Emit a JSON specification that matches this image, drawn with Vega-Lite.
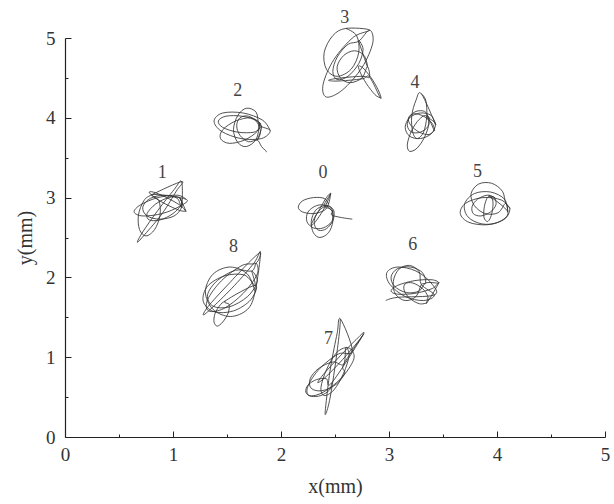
{
  "$schema": "https://vega.github.io/schema/vega-lite/v6.json",
  "width": 540,
  "height": 399,
  "autosize": {"type": "none"},
  "padding": {"left": 65, "top": 38, "right": 9, "bottom": 67},
  "background": "white",
  "config": {
    "view": {"stroke": null},
    "font": "Liberation Serif",
    "axis": {"grid": false, "labelFont": "Liberation Serif", "titleFont": "Liberation Serif", "domainColor": "#222", "tickColor": "#222", "domainWidth": 1.2, "tickWidth": 1}
  },
  "datasets": {
    "paths": [
      {"c":0,"x":2.44,"y":2.92},{"c":0,"x":2.40,"y":2.99},{"c":0,"x":2.30,"y":3.00},{"c":0,"x":2.20,"y":2.96},{"c":0,"x":2.16,"y":2.88},{"c":0,"x":2.20,"y":2.82},{"c":0,"x":2.30,"y":2.80},{"c":0,"x":2.40,"y":2.84},{"c":0,"x":2.44,"y":2.92},
      {"c":0,"x":2.46,"y":3.05},{"c":0,"x":2.44,"y":2.98},{"c":0,"x":2.39,"y":2.84},{"c":0,"x":2.32,"y":2.70},{"c":0,"x":2.28,"y":2.65},{"c":0,"x":2.30,"y":2.72},{"c":0,"x":2.36,"y":2.86},{"c":0,"x":2.42,"y":3.00},{"c":0,"x":2.46,"y":3.05},
      {"c":0,"x":2.40,"y":2.90},{"c":0,"x":2.47,"y":2.84},{"c":0,"x":2.48,"y":2.70},{"c":0,"x":2.44,"y":2.56},{"c":0,"x":2.36,"y":2.50},{"c":0,"x":2.30,"y":2.56},{"c":0,"x":2.28,"y":2.70},{"c":0,"x":2.32,"y":2.84},{"c":0,"x":2.40,"y":2.90},
      {"c":0,"x":2.45,"y":2.89},{"c":0,"x":2.49,"y":2.83},{"c":0,"x":2.48,"y":2.71},{"c":0,"x":2.42,"y":2.61},{"c":0,"x":2.35,"y":2.59},{"c":0,"x":2.31,"y":2.66},{"c":0,"x":2.32,"y":2.77},{"c":0,"x":2.38,"y":2.87},{"c":0,"x":2.45,"y":2.89},
      {"c":0,"x":2.48,"y":2.82},{"c":0,"x":2.42,"y":2.90},{"c":0,"x":2.33,"y":2.90},{"c":0,"x":2.25,"y":2.82},{"c":0,"x":2.24,"y":2.70},{"c":0,"x":2.30,"y":2.62},{"c":0,"x":2.39,"y":2.62},{"c":0,"x":2.47,"y":2.70},{"c":0,"x":2.48,"y":2.82},
      {"c":0,"x":2.47,"y":2.78},{"c":0,"x":2.56,"y":2.75},{"c":0,"x":2.66,"y":2.73},

      {"c":1,"x":1.12,"y":2.98},{"c":1,"x":1.04,"y":3.03},{"c":1,"x":0.86,"y":3.00},{"c":1,"x":0.70,"y":2.91},{"c":1,"x":0.64,"y":2.82},{"c":1,"x":0.72,"y":2.77},{"c":1,"x":0.90,"y":2.80},{"c":1,"x":1.06,"y":2.89},{"c":1,"x":1.12,"y":2.98},
      {"c":1,"x":0.81,"y":3.04},{"c":1,"x":0.87,"y":2.96},{"c":1,"x":0.88,"y":2.78},{"c":1,"x":0.83,"y":2.60},{"c":1,"x":0.75,"y":2.52},{"c":1,"x":0.69,"y":2.60},{"c":1,"x":0.68,"y":2.78},{"c":1,"x":0.73,"y":2.96},{"c":1,"x":0.81,"y":3.04},
      {"c":1,"x":1.08,"y":3.20},{"c":1,"x":1.03,"y":3.08},{"c":1,"x":0.90,"y":2.80},{"c":1,"x":0.74,"y":2.54},{"c":1,"x":0.67,"y":2.44},{"c":1,"x":0.72,"y":2.57},{"c":1,"x":0.86,"y":2.84},{"c":1,"x":1.01,"y":3.10},{"c":1,"x":1.08,"y":3.20},
      {"c":1,"x":1.08,"y":2.88},{"c":1,"x":1.04,"y":2.99},{"c":1,"x":0.92,"y":3.03},{"c":1,"x":0.79,"y":2.99},{"c":1,"x":0.72,"y":2.88},{"c":1,"x":0.76,"y":2.77},{"c":1,"x":0.88,"y":2.73},{"c":1,"x":1.01,"y":2.77},{"c":1,"x":1.08,"y":2.88},
      {"c":1,"x":1.06,"y":3.00},{"c":1,"x":0.96,"y":3.00},{"c":1,"x":0.84,"y":2.92},{"c":1,"x":0.76,"y":2.80},{"c":1,"x":0.78,"y":2.72},{"c":1,"x":0.88,"y":2.72},{"c":1,"x":1.00,"y":2.80},{"c":1,"x":1.08,"y":2.92},{"c":1,"x":1.06,"y":3.00},
      {"c":1,"x":1.12,"y":2.83},{"c":1,"x":1.08,"y":2.89},{"c":1,"x":0.97,"y":2.98},{"c":1,"x":0.84,"y":3.06},{"c":1,"x":0.78,"y":3.07},{"c":1,"x":0.82,"y":3.01},{"c":1,"x":0.93,"y":2.92},{"c":1,"x":1.06,"y":2.84},{"c":1,"x":1.12,"y":2.83},

      {"c":2,"x":1.90,"y":3.84},{"c":2,"x":1.83,"y":3.97},{"c":2,"x":1.65,"y":4.06},{"c":2,"x":1.46,"y":4.06},{"c":2,"x":1.38,"y":3.96},{"c":2,"x":1.45,"y":3.83},{"c":2,"x":1.63,"y":3.74},{"c":2,"x":1.82,"y":3.74},{"c":2,"x":1.90,"y":3.84},
      {"c":2,"x":1.80,"y":3.91},{"c":2,"x":1.77,"y":4.07},{"c":2,"x":1.68,"y":4.12},{"c":2,"x":1.60,"y":4.03},{"c":2,"x":1.56,"y":3.85},{"c":2,"x":1.60,"y":3.69},{"c":2,"x":1.68,"y":3.64},{"c":2,"x":1.77,"y":3.73},{"c":2,"x":1.80,"y":3.91},
      {"c":2,"x":1.80,"y":3.94},{"c":2,"x":1.72,"y":4.00},{"c":2,"x":1.58,"y":3.96},{"c":2,"x":1.46,"y":3.85},{"c":2,"x":1.44,"y":3.74},{"c":2,"x":1.52,"y":3.68},{"c":2,"x":1.66,"y":3.72},{"c":2,"x":1.78,"y":3.83},{"c":2,"x":1.80,"y":3.94},
      {"c":2,"x":1.82,"y":3.88},{"c":2,"x":1.78,"y":3.96},{"c":2,"x":1.64,"y":4.02},{"c":2,"x":1.49,"y":4.02},{"c":2,"x":1.42,"y":3.96},{"c":2,"x":1.46,"y":3.88},{"c":2,"x":1.60,"y":3.82},{"c":2,"x":1.75,"y":3.82},{"c":2,"x":1.82,"y":3.88},
      {"c":2,"x":1.78,"y":3.72},{"c":2,"x":1.81,"y":3.82},{"c":2,"x":1.78,"y":3.94},{"c":2,"x":1.70,"y":4.02},{"c":2,"x":1.62,"y":4.00},{"c":2,"x":1.59,"y":3.90},{"c":2,"x":1.62,"y":3.78},{"c":2,"x":1.70,"y":3.70},{"c":2,"x":1.78,"y":3.72},
      {"c":2,"x":1.82,"y":3.64},{"c":2,"x":1.87,"y":3.57},

      {"c":3,"x":2.60,"y":5.12},{"c":3,"x":2.70,"y":5.03},{"c":3,"x":2.72,"y":4.82},{"c":3,"x":2.65,"y":4.61},{"c":3,"x":2.52,"y":4.52},{"c":3,"x":2.42,"y":4.61},{"c":3,"x":2.40,"y":4.82},{"c":3,"x":2.48,"y":5.03},{"c":3,"x":2.60,"y":5.12},
      {"c":3,"x":2.82,"y":5.10},{"c":3,"x":2.67,"y":5.01},{"c":3,"x":2.49,"y":4.73},{"c":3,"x":2.39,"y":4.42},{"c":3,"x":2.42,"y":4.26},{"c":3,"x":2.57,"y":4.35},{"c":3,"x":2.75,"y":4.63},{"c":3,"x":2.85,"y":4.94},{"c":3,"x":2.82,"y":5.10},
      {"c":3,"x":2.72,"y":4.96},{"c":3,"x":2.62,"y":4.92},{"c":3,"x":2.52,"y":4.76},{"c":3,"x":2.48,"y":4.58},{"c":3,"x":2.52,"y":4.48},{"c":3,"x":2.62,"y":4.52},{"c":3,"x":2.72,"y":4.68},{"c":3,"x":2.76,"y":4.86},{"c":3,"x":2.72,"y":4.96},
      {"c":3,"x":2.80,"y":4.64},{"c":3,"x":2.77,"y":4.78},{"c":3,"x":2.68,"y":4.84},{"c":3,"x":2.58,"y":4.78},{"c":3,"x":2.52,"y":4.64},{"c":3,"x":2.55,"y":4.50},{"c":3,"x":2.64,"y":4.44},{"c":3,"x":2.75,"y":4.50},{"c":3,"x":2.80,"y":4.64},
      {"c":3,"x":2.82,"y":4.51},{"c":3,"x":2.76,"y":4.52},{"c":3,"x":2.63,"y":4.51},{"c":3,"x":2.50,"y":4.49},{"c":3,"x":2.44,"y":4.47},{"c":3,"x":2.50,"y":4.46},{"c":3,"x":2.63,"y":4.47},{"c":3,"x":2.76,"y":4.49},{"c":3,"x":2.82,"y":4.51},
      {"c":3,"x":2.92,"y":4.25},{"c":3,"x":2.91,"y":4.32},{"c":3,"x":2.85,"y":4.47},{"c":3,"x":2.77,"y":4.61},{"c":3,"x":2.72,"y":4.65},{"c":3,"x":2.73,"y":4.58},{"c":3,"x":2.79,"y":4.43},{"c":3,"x":2.87,"y":4.29},{"c":3,"x":2.92,"y":4.25},

      {"c":4,"x":3.30,"y":4.30},{"c":4,"x":3.34,"y":4.22},{"c":4,"x":3.35,"y":4.02},{"c":4,"x":3.32,"y":3.82},{"c":4,"x":3.26,"y":3.74},{"c":4,"x":3.22,"y":3.82},{"c":4,"x":3.21,"y":4.02},{"c":4,"x":3.25,"y":4.22},{"c":4,"x":3.30,"y":4.30},
      {"c":4,"x":3.43,"y":3.92},{"c":4,"x":3.39,"y":4.03},{"c":4,"x":3.29,"y":4.06},{"c":4,"x":3.19,"y":4.00},{"c":4,"x":3.15,"y":3.88},{"c":4,"x":3.19,"y":3.77},{"c":4,"x":3.29,"y":3.74},{"c":4,"x":3.39,"y":3.80},{"c":4,"x":3.43,"y":3.92},
      {"c":4,"x":3.37,"y":4.00},{"c":4,"x":3.33,"y":4.08},{"c":4,"x":3.25,"y":4.08},{"c":4,"x":3.19,"y":4.01},{"c":4,"x":3.17,"y":3.90},{"c":4,"x":3.21,"y":3.82},{"c":4,"x":3.29,"y":3.82},{"c":4,"x":3.36,"y":3.89},{"c":4,"x":3.37,"y":4.00},
      {"c":4,"x":3.35,"y":4.02},{"c":4,"x":3.37,"y":3.93},{"c":4,"x":3.33,"y":3.76},{"c":4,"x":3.26,"y":3.62},{"c":4,"x":3.19,"y":3.58},{"c":4,"x":3.17,"y":3.67},{"c":4,"x":3.21,"y":3.84},{"c":4,"x":3.28,"y":3.98},{"c":4,"x":3.35,"y":4.02},
      {"c":4,"x":3.42,"y":3.84},{"c":4,"x":3.40,"y":3.93},{"c":4,"x":3.32,"y":4.02},{"c":4,"x":3.23,"y":4.05},{"c":4,"x":3.18,"y":4.00},{"c":4,"x":3.20,"y":3.91},{"c":4,"x":3.28,"y":3.82},{"c":4,"x":3.37,"y":3.79},{"c":4,"x":3.42,"y":3.84},

      {"c":5,"x":4.12,"y":2.86},{"c":5,"x":4.04,"y":2.97},{"c":5,"x":3.87,"y":3.00},{"c":5,"x":3.71,"y":2.93},{"c":5,"x":3.66,"y":2.80},{"c":5,"x":3.74,"y":2.69},{"c":5,"x":3.91,"y":2.66},{"c":5,"x":4.07,"y":2.73},{"c":5,"x":4.12,"y":2.86},
      {"c":5,"x":4.08,"y":2.93},{"c":5,"x":4.05,"y":3.08},{"c":5,"x":3.95,"y":3.18},{"c":5,"x":3.83,"y":3.17},{"c":5,"x":3.76,"y":3.05},{"c":5,"x":3.79,"y":2.90},{"c":5,"x":3.89,"y":2.80},{"c":5,"x":4.01,"y":2.81},{"c":5,"x":4.08,"y":2.93},
      {"c":5,"x":4.10,"y":2.82},{"c":5,"x":4.07,"y":2.98},{"c":5,"x":3.94,"y":3.07},{"c":5,"x":3.79,"y":3.05},{"c":5,"x":3.70,"y":2.92},{"c":5,"x":3.73,"y":2.76},{"c":5,"x":3.86,"y":2.67},{"c":5,"x":4.01,"y":2.69},{"c":5,"x":4.10,"y":2.82},
      {"c":5,"x":3.93,"y":3.02},{"c":5,"x":3.96,"y":2.97},{"c":5,"x":3.96,"y":2.86},{"c":5,"x":3.94,"y":2.75},{"c":5,"x":3.91,"y":2.70},{"c":5,"x":3.88,"y":2.75},{"c":5,"x":3.88,"y":2.86},{"c":5,"x":3.90,"y":2.97},{"c":5,"x":3.93,"y":3.02},
      {"c":5,"x":3.98,"y":3.00},{"c":5,"x":3.91,"y":3.03},{"c":5,"x":3.82,"y":2.98},{"c":5,"x":3.77,"y":2.89},{"c":5,"x":3.78,"y":2.80},{"c":5,"x":3.85,"y":2.77},{"c":5,"x":3.94,"y":2.82},{"c":5,"x":3.99,"y":2.91},{"c":5,"x":3.98,"y":3.00},

      {"c":6,"x":2.97,"y":1.71},{"c":6,"x":3.08,"y":1.75},
      {"c":6,"x":3.42,"y":1.78},{"c":6,"x":3.39,"y":1.93},{"c":6,"x":3.25,"y":2.08},{"c":6,"x":3.08,"y":2.13},{"c":6,"x":2.98,"y":2.06},{"c":6,"x":3.01,"y":1.91},{"c":6,"x":3.15,"y":1.76},{"c":6,"x":3.32,"y":1.71},{"c":6,"x":3.42,"y":1.78},
      {"c":6,"x":3.30,"y":1.91},{"c":6,"x":3.28,"y":2.07},{"c":6,"x":3.19,"y":2.15},{"c":6,"x":3.09,"y":2.10},{"c":6,"x":3.04,"y":1.95},{"c":6,"x":3.06,"y":1.79},{"c":6,"x":3.15,"y":1.71},{"c":6,"x":3.25,"y":1.76},{"c":6,"x":3.30,"y":1.91},
      {"c":6,"x":3.34,"y":1.93},{"c":6,"x":3.31,"y":2.06},{"c":6,"x":3.20,"y":2.13},{"c":6,"x":3.08,"y":2.11},{"c":6,"x":3.02,"y":2.01},{"c":6,"x":3.05,"y":1.89},{"c":6,"x":3.16,"y":1.81},{"c":6,"x":3.28,"y":1.83},{"c":6,"x":3.34,"y":1.93},
      {"c":6,"x":3.46,"y":1.93},{"c":6,"x":3.40,"y":1.97},{"c":6,"x":3.24,"y":1.96},{"c":6,"x":3.08,"y":1.90},{"c":6,"x":3.02,"y":1.83},{"c":6,"x":3.08,"y":1.79},{"c":6,"x":3.24,"y":1.80},{"c":6,"x":3.40,"y":1.86},{"c":6,"x":3.46,"y":1.93},
      {"c":6,"x":3.35,"y":1.68},{"c":6,"x":3.36,"y":1.76},{"c":6,"x":3.31,"y":1.86},{"c":6,"x":3.22,"y":1.93},{"c":6,"x":3.15,"y":1.92},{"c":6,"x":3.14,"y":1.84},{"c":6,"x":3.19,"y":1.74},{"c":6,"x":3.28,"y":1.67},{"c":6,"x":3.35,"y":1.68},

      {"c":7,"x":2.55,"y":1.48},{"c":7,"x":2.54,"y":1.30},{"c":7,"x":2.50,"y":0.88},{"c":7,"x":2.45,"y":0.46},{"c":7,"x":2.41,"y":0.28},{"c":7,"x":2.42,"y":0.46},{"c":7,"x":2.46,"y":0.88},{"c":7,"x":2.52,"y":1.30},{"c":7,"x":2.55,"y":1.48},
      {"c":7,"x":2.66,"y":1.08},{"c":7,"x":2.53,"y":1.04},{"c":7,"x":2.36,"y":0.86},{"c":7,"x":2.25,"y":0.64},{"c":7,"x":2.26,"y":0.52},{"c":7,"x":2.39,"y":0.56},{"c":7,"x":2.56,"y":0.74},{"c":7,"x":2.67,"y":0.96},{"c":7,"x":2.66,"y":1.08},
      {"c":7,"x":2.60,"y":1.12},{"c":7,"x":2.51,"y":1.05},{"c":7,"x":2.42,"y":0.84},{"c":7,"x":2.37,"y":0.62},{"c":7,"x":2.40,"y":0.52},{"c":7,"x":2.49,"y":0.59},{"c":7,"x":2.58,"y":0.80},{"c":7,"x":2.63,"y":1.02},{"c":7,"x":2.60,"y":1.12},
      {"c":7,"x":2.58,"y":0.91},{"c":7,"x":2.48,"y":0.94},{"c":7,"x":2.35,"y":0.86},{"c":7,"x":2.27,"y":0.73},{"c":7,"x":2.28,"y":0.61},{"c":7,"x":2.38,"y":0.58},{"c":7,"x":2.51,"y":0.66},{"c":7,"x":2.59,"y":0.80},{"c":7,"x":2.58,"y":0.91},
      {"c":7,"x":2.76,"y":1.28},{"c":7,"x":2.71,"y":1.19},{"c":7,"x":2.57,"y":0.97},{"c":7,"x":2.42,"y":0.76},{"c":7,"x":2.34,"y":0.68},{"c":7,"x":2.39,"y":0.78},{"c":7,"x":2.53,"y":0.99},{"c":7,"x":2.68,"y":1.20},{"c":7,"x":2.76,"y":1.28},
      {"c":7,"x":2.47,"y":0.68},{"c":7,"x":2.42,"y":0.73},{"c":7,"x":2.33,"y":0.72},{"c":7,"x":2.25,"y":0.65},{"c":7,"x":2.23,"y":0.56},{"c":7,"x":2.28,"y":0.51},{"c":7,"x":2.37,"y":0.52},{"c":7,"x":2.45,"y":0.59},{"c":7,"x":2.47,"y":0.68},

      {"c":8,"x":1.76,"y":1.82},{"c":8,"x":1.69,"y":2.04},{"c":8,"x":1.53,"y":2.13},{"c":8,"x":1.37,"y":2.04},{"c":8,"x":1.30,"y":1.82},{"c":8,"x":1.37,"y":1.60},{"c":8,"x":1.53,"y":1.51},{"c":8,"x":1.69,"y":1.60},{"c":8,"x":1.76,"y":1.82},
      {"c":8,"x":1.81,"y":2.31},{"c":8,"x":1.75,"y":2.18},{"c":8,"x":1.57,"y":1.90},{"c":8,"x":1.37,"y":1.63},{"c":8,"x":1.28,"y":1.53},{"c":8,"x":1.34,"y":1.66},{"c":8,"x":1.53,"y":1.94},{"c":8,"x":1.72,"y":2.21},{"c":8,"x":1.81,"y":2.31},
      {"c":8,"x":1.77,"y":2.18},{"c":8,"x":1.64,"y":2.15},{"c":8,"x":1.45,"y":1.96},{"c":8,"x":1.32,"y":1.72},{"c":8,"x":1.33,"y":1.58},{"c":8,"x":1.47,"y":1.61},{"c":8,"x":1.65,"y":1.80},{"c":8,"x":1.78,"y":2.04},{"c":8,"x":1.77,"y":2.18},
      {"c":8,"x":1.73,"y":2.08},{"c":8,"x":1.58,"y":2.09},{"c":8,"x":1.41,"y":1.96},{"c":8,"x":1.32,"y":1.78},{"c":8,"x":1.37,"y":1.64},{"c":8,"x":1.52,"y":1.63},{"c":8,"x":1.69,"y":1.76},{"c":8,"x":1.78,"y":1.95},{"c":8,"x":1.73,"y":2.08},
      {"c":8,"x":1.76,"y":1.90},{"c":8,"x":1.66,"y":2.03},{"c":8,"x":1.48,"y":2.02},{"c":8,"x":1.32,"y":1.89},{"c":8,"x":1.28,"y":1.70},{"c":8,"x":1.38,"y":1.57},{"c":8,"x":1.56,"y":1.58},{"c":8,"x":1.72,"y":1.72},{"c":8,"x":1.76,"y":1.90},
      {"c":8,"x":1.49,"y":1.71},{"c":8,"x":1.52,"y":1.66},{"c":8,"x":1.51,"y":1.55},{"c":8,"x":1.46,"y":1.44},{"c":8,"x":1.41,"y":1.39},{"c":8,"x":1.38,"y":1.44},{"c":8,"x":1.39,"y":1.55},{"c":8,"x":1.44,"y":1.66},{"c":8,"x":1.49,"y":1.71}
    ],
    "labels": [
      {"n":"0","x":2.39,"y":3.31},
      {"n":"1","x":0.90,"y":3.31},
      {"n":"2","x":1.60,"y":4.33},
      {"n":"3","x":2.59,"y":5.25},
      {"n":"4","x":3.24,"y":4.43},
      {"n":"5","x":3.82,"y":3.32},
      {"n":"6","x":3.22,"y":2.40},
      {"n":"7","x":2.44,"y":1.23},
      {"n":"8","x":1.56,"y":2.38}
    ]
  },
  "layer": [
    {
      "data": {"name": "paths"},
      "mark": {"type": "line", "interpolate": "cardinal", "strokeWidth": 0.85, "color": "#333", "clip": false},
      "encoding": {
        "x": {"field": "x", "type": "quantitative", "scale": {"domain": [0, 5], "nice": false},
          "axis": {"orient": "bottom", "values": [0, 1, 2, 3, 4, 5], "tickSize": -6, "labelPadding": 14, "labelFontSize": 19, "labelColor": "#333", "labelFlush": false, "title": "x(mm)", "titleFontSize": 20, "titleFontWeight": "normal", "titleColor": "#333", "titlePadding": 12}},
        "y": {"field": "y", "type": "quantitative", "scale": {"domain": [0, 5], "nice": false},
          "axis": {"orient": "left", "values": [0, 1, 2, 3, 4, 5], "tickSize": -6, "labelPadding": 16, "labelFontSize": 19, "labelColor": "#333", "labelFlush": false, "title": "y(mm)", "titleFontSize": 20, "titleFontWeight": "normal", "titleColor": "#333", "titlePadding": 10}},
        "detail": {"field": "c"},
        "order": {"value": null}
      }
    },
    {
      "data": {"name": "labels"},
      "mark": {"type": "text", "fontSize": 18, "color": "#444", "font": "Liberation Serif", "baseline": "middle", "align": "center"},
      "encoding": {
        "x": {"field": "x", "type": "quantitative",
          "axis": {"orient": "bottom", "values": [0.5, 1.5, 2.5, 3.5, 4.5], "tickSize": -3, "labels": false, "domain": false, "title": null}},
        "y": {"field": "y", "type": "quantitative",
          "axis": {"orient": "left", "values": [0.5, 1.5, 2.5, 3.5, 4.5], "tickSize": -3, "labels": false, "domain": false, "title": null}},
        "text": {"field": "n"}
      }
    }
  ],
  "resolve": {"axis": {"x": "independent", "y": "independent"}}
}
